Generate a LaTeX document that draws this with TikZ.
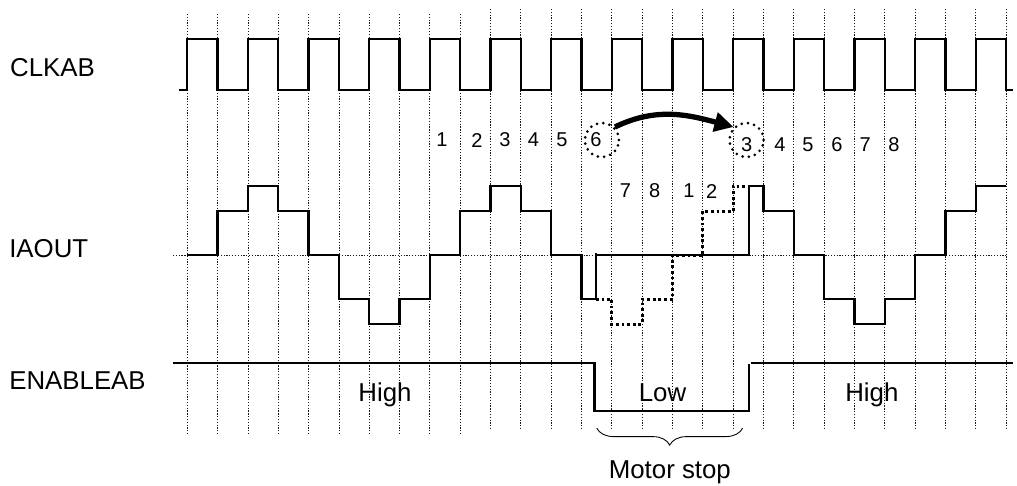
\documentclass[tikz,border=0pt]{standalone}
\usepackage{fontspec}
\setmainfont{Liberation Sans}
\usetikzlibrary{arrows.meta,decorations.pathreplacing}
\tikzset{
	gridline/.style = {line width=0.5pt, dash pattern=on 0.7pt off 0.9pt, black!90},
	wave/.style = {line width=1.35pt, line join=miter},
	skipped/.style = {line width=1.7pt, dash pattern=on 1.6pt off 1.6pt},
	ring/.style = {circle, draw, line width=1.7pt, line cap=round, dash pattern=on 0pt off 3.6pt, minimum size=0.68cm, inner sep=0pt},
	siglabel/.style = {font=\fontsize{14.7}{16}\selectfont, inner sep=0pt},
	count/.style = {font=\fontsize{11.4}{13}\selectfont, inner sep=0pt}
}

\begin{document}
\begin{tikzpicture}[x=0.6066cm, y=-0.02cm]
			\useasboundingbox (-6.175, 0) rectangle (27.356, 485);
			% dotted grid
			\foreach \k in {0,...,9}
				\draw[gridline] (\k, 14) -- (\k, 433);
			\foreach \k in {10,...,27}
				\draw[gridline] (\k, 9) -- (\k, 428);
			\draw[gridline] (-0.47, 255) -- (27, 255);
			% CLKAB
			\draw[wave] (-0.27, 90) 
				\foreach \k in {0,2,...,26} { -- (\k, 90) -- (\k, 39) -- (\k+1, 39) -- (\k+1, 90) } 
				-- (27.22, 90);
			% IAOUT, with the steps that are skipped
			\draw[skipped] (13.475, 299) -| (14, 324) -| (15, 299) -| (16, 255) -| (17, 211) -| (18, 186) -- (18.515, 186);
			\draw[wave] (0, 255) -| (1, 211) -| (2, 186) -| (3, 211) -| (4, 255) -| (5, 299) -| (6, 324) 
				-| (7, 299) -| (8, 255) -| (9, 211) -| (10, 186) -| (11, 211) -| (12, 255) -| (13, 299) -| (13.475, 253);
			\draw[wave] (13.475, 255) -- (18.515, 255) -- (18.515, 186) -| (19, 211) -| (20, 255) -| (21, 299) -| (22, 324) 
				-| (23, 299) -| (24, 255) -| (25, 211) -| (26, 186) -- (27, 186);
			% ENABLEAB
			\draw[wave] (-0.47, 363) -- (13.425, 363) -- (13.425, 411) -- (18.515, 411) -- (18.515, 364);
			\draw[wave] (18.58, 363) -- (27.21, 363);
			% signal names
			\node[siglabel, anchor=west] (clkab) at (-5.85, 67.7) {CLKAB};
			\node[siglabel, anchor=west] (iaout) at (-5.88, 249) {IAOUT};
			\node[siglabel, anchor=west] (enableab) at (-5.88, 381) {ENABLEAB};
			\node[siglabel] (higha) at (6.52, 395) {High};
			\node[siglabel] (low) at (15.67, 393) {Low};
			\node[siglabel] (highb) at (22.57, 395) {High};
			% step numbers
			\foreach \name/\x/\y/\txt in {cnta/8.40/140/1, cntb/9.55/140/2, cntc/10.47/140/3, cntd/11.41/140/4, cnte/12.35/140/5, 
					cntf/13.47/140/6, cntg/14.45/191/7, cnth/15.41/191/8, cnti/16.54/191/1, cntj/17.29/191/2, 
					cntk/18.44/145/3, cntl/19.54/145/4, cntm/20.46/145/5, cntn/21.42/145/6, cnto/22.35/145/7, cntp/23.30/145/8}
				\node[count] (\name) at (\x, \y) {\txt};
			% jump from 6 to 3
			\node[ring] (ringsix) at (13.67, 140) {};
			\node[ring] (ringthree) at (18.44, 140) {};
			\draw[line width=3pt, -{Triangle[length=0.38cm, width=0.38cm]}] (ringsix.north east) to[out=26, in=165] (ringthree.north west);
			% motor stop
			\coordinate (stopa) at (13.50, 428);
			\coordinate (stopb) at (18.31, 428);
			\draw[line width=0.5pt, decorate, decoration={brace, mirror, amplitude=0.34cm}] (stopa) -- (stopb);
			\node[siglabel] (stop) at (15.91, 472) {Motor stop};
		\end{tikzpicture}
\end{document}
